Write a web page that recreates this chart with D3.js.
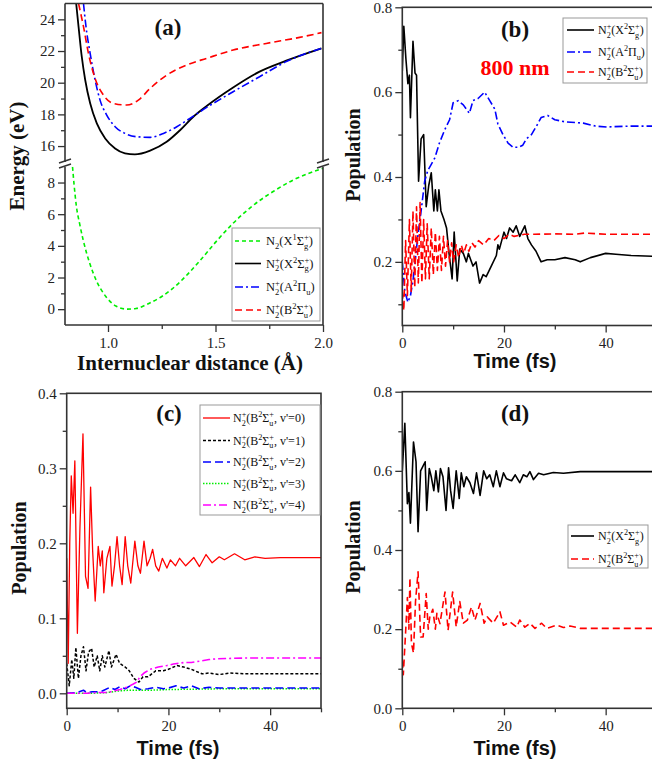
<!DOCTYPE html>
<html>
<head>
<meta charset="utf-8">
<script src="https://cdn.jsdelivr.net/npm/d3@7"></script>
<style>
  body { margin: 0; background: #fff; }
  svg { display: block; }
</style>
</head>
<body>
<svg id="chart" width="652" height="766"></svg>
<script>
// ---- panel (a): potential curves, [r (Å), energy (eV)] ----
const aGround = [[0.835,9.0],[0.842,7.9],[0.853,6.5],[0.868,5.4],[0.884,4.4],[0.915,2.9],[0.946,1.8],[0.99,0.8],[1.037,0.2],[1.09,0.0],[1.13,0.04],[1.19,0.36],[1.25,0.8],[1.30,1.3],[1.37,2.2],[1.43,3.1],[1.505,4.3],[1.58,5.4],[1.67,6.5],[1.77,7.45],[1.86,8.15],[2.0,8.9]]
const aX = [[0.852,25],[0.863,23.54],[0.878,21.64],[0.894,20.17],[0.917,18.7],[0.948,17.43],[0.987,16.48],[1.033,15.85],[1.079,15.54],[1.125,15.47],[1.196,15.71],[1.273,16.27],[1.335,17.0],[1.397,17.85],[1.459,18.53],[1.582,19.7],[1.705,20.7],[1.829,21.39],[1.993,22.17]]
const aA = [[0.886,25],[0.898,23.5],[0.917,21.85],[0.94,20.17],[0.963,18.9],[0.994,17.96],[1.033,17.22],[1.079,16.8],[1.133,16.59],[1.196,16.55],[1.258,16.8],[1.32,17.22],[1.381,17.75],[1.459,18.44],[1.582,19.43],[1.705,20.38],[1.829,21.33],[1.993,22.17]]
const aB = [[0.863,25],[0.886,23.54],[0.909,21.85],[0.94,20.27],[0.979,19.22],[1.025,18.69],[1.087,18.59],[1.141,18.9],[1.196,19.64],[1.273,20.48],[1.366,21.12],[1.459,21.54],[1.582,22.06],[1.736,22.48],[1.891,22.86],[1.993,23.16]]

// ---- panel (b): 800 nm populations, [time (fs), population] ----
const bX = [[0,0.65],[0.3,0.755],[0.7,0.68],[1.1,0.62],[1.4,0.64],[1.6,0.54],[2.1,0.72],[2.5,0.645],[2.8,0.64],[3.2,0.39],[3.7,0.49],[4.2,0.5],[4.7,0.33],[5.2,0.38],[5.7,0.41],[6.2,0.32],[6.5,0.37],[6.9,0.32],[7.2,0.37],[7.6,0.32],[8.2,0.3],[8.7,0.28],[9.2,0.22],[9.8,0.16],[10.2,0.27],[10.8,0.155],[11.3,0.23],[12.0,0.22],[12.6,0.2],[13.0,0.22],[13.9,0.19],[14.5,0.2],[15.2,0.15],[15.9,0.17],[16.5,0.165],[17.5,0.19],[18.5,0.215],[18.8,0.24],[19.1,0.23],[20.0,0.27],[20.5,0.255],[21.1,0.28],[21.8,0.27],[22.4,0.285],[23.1,0.26],[24.1,0.285],[24.7,0.255],[25.4,0.24],[26.3,0.225],[27.3,0.2],[28.5,0.205],[30,0.205],[32,0.21],[34,0.205],[35,0.2],[37,0.21],[40,0.22],[42,0.218],[45,0.215],[50,0.213]]
const bA = [[0,0.2],[0.5,0.13],[1.1,0.105],[1.6,0.12],[2.1,0.155],[2.6,0.21],[3.1,0.265],[3.7,0.32],[4.4,0.39],[5.0,0.415],[5.7,0.43],[6.4,0.445],[7.3,0.48],[8.3,0.51],[9.3,0.535],[10.0,0.575],[11.0,0.58],[12.0,0.57],[13.2,0.55],[13.9,0.58],[14.9,0.585],[16.2,0.6],[17.2,0.58],[18.2,0.56],[18.8,0.525],[19.8,0.5],[20.8,0.48],[21.8,0.47],[22.8,0.47],[23.7,0.475],[24.4,0.49],[25.4,0.5],[26.4,0.52],[27.3,0.54],[28.6,0.545],[30,0.535],[32,0.53],[35.6,0.527],[38,0.52],[40.2,0.518],[45,0.52],[50,0.52]]
const bB = [[0,0.13],[0.3,0.085],[0.65,0.25],[1.0,0.12],[1.4,0.3],[1.75,0.13],[2.1,0.32],[2.45,0.14],[2.8,0.33],[3.15,0.15],[3.5,0.34],[3.85,0.15],[4.2,0.3],[4.55,0.16],[4.9,0.29],[5.3,0.16],[5.7,0.28],[6.1,0.17],[6.5,0.27],[6.9,0.18],[7.3,0.26],[7.7,0.18],[8.1,0.26],[8.5,0.19],[8.9,0.25],[9.3,0.2],[9.7,0.245],[10.1,0.2],[10.6,0.24],[11.1,0.21],[11.6,0.24],[12.1,0.22],[12.6,0.24],[13.1,0.225],[13.7,0.245],[14.3,0.235],[15,0.25],[16,0.24],[17,0.255],[18,0.25],[19,0.262],[20,0.255],[21,0.265],[22,0.26],[24,0.265],[26,0.265],[30,0.266],[34,0.265],[36,0.268],[40,0.265],[45,0.265],[50,0.265]]

// ---- panel (c): vibrational levels of B state ----
const cV0 = [[0,0.18],[0.3,0.04],[0.6,0.2],[0.9,0.29],[1.25,0.24],[1.6,0.31],[2.1,0.08],[2.6,0.22],[3.2,0.346],[3.7,0.156],[4.2,0.14],[4.7,0.275],[5.1,0.19],[5.6,0.123],[6.2,0.196],[6.6,0.17],[7.0,0.19],[7.3,0.134],[7.9,0.18],[8.5,0.196],[8.9,0.143],[9.4,0.17],[9.9,0.209],[10.4,0.17],[10.9,0.145],[11.5,0.209],[12.0,0.17],[12.6,0.147],[13.4,0.203],[14.0,0.17],[14.5,0.16],[15.2,0.203],[15.8,0.17],[16.4,0.18],[16.9,0.192],[17.5,0.17],[18.1,0.163],[18.8,0.18],[19.7,0.167],[20.4,0.178],[21.4,0.17],[22.2,0.18],[23.4,0.17],[25,0.181],[26.1,0.169],[27.4,0.185],[28.6,0.174],[30,0.182],[31,0.178],[33,0.186],[35,0.178],[37,0.182],[39,0.18],[42,0.181],[50,0.181]]
const cV1 = [[0,0.04],[0.5,0.01],[1.0,0.045],[1.4,0.02],[1.8,0.061],[2.3,0.02],[2.8,0.05],[3.3,0.062],[3.8,0.03],[4.3,0.055],[4.9,0.06],[5.4,0.035],[6.0,0.05],[6.5,0.03],[7.0,0.05],[7.5,0.035],[8.3,0.057],[8.8,0.035],[9.7,0.052],[10.4,0.04],[11.5,0.035],[12.3,0.03],[13.2,0.02],[14.2,0.015],[15.0,0.022],[16,0.022],[17.5,0.03],[19,0.03],[20,0.032],[21.7,0.037],[23,0.035],[24.5,0.032],[26.6,0.026],[28,0.027],[30,0.025],[32,0.027],[35,0.026],[40,0.026],[50,0.026]]
const cV2 = [[0,0],[2,0.001],[3.3,0.004],[4,0.001],[5,0.002],[6,0.002],[7,0.003],[8.5,0.008],[9.5,0.005],[10.5,0.009],[11.5,0.006],[12.5,0.01],[13.5,0.008],[14.5,0.005],[16,0.006],[17.5,0.008],[19,0.006],[20,0.007],[21.5,0.01],[23,0.007],[24.5,0.01],[26,0.006],[28,0.008],[30,0.007],[35,0.007],[40,0.007],[50,0.007]]
const cV3 = [[0,0],[5,0],[8,0.001],[10,0.003],[12,0.004],[16,0.004],[20,0.005],[30,0.006],[50,0.006]]
const cV4 = [[0,0],[4,0],[6,0.001],[8,0.001],[9.2,0.003],[10.5,0.005],[11.8,0.008],[13,0.012],[13.8,0.015],[14.4,0.022],[15.2,0.027],[16.4,0.032],[18,0.035],[19.7,0.037],[21,0.039],[23,0.041],[24.5,0.041],[26.2,0.043],[28,0.045],[29.5,0.046],[32,0.0465],[35,0.047],[40,0.047],[50,0.047]]

// ---- panel (d): X and B populations ----
const dX = [[0,0.6],[0.5,0.72],[1.0,0.517],[1.3,0.545],[1.6,0.468],[2.2,0.673],[2.7,0.623],[3.1,0.446],[3.6,0.6],[4.0,0.61],[4.5,0.623],[4.8,0.5],[5.3,0.606],[5.7,0.585],[6.2,0.55],[6.6,0.6],[7.1,0.547],[7.5,0.606],[8.0,0.585],[8.6,0.5],[9.1,0.608],[9.5,0.55],[10,0.505],[10.6,0.6],[11.2,0.53],[11.6,0.595],[12.1,0.56],[12.6,0.585],[13.3,0.57],[14.0,0.543],[14.6,0.595],[15.3,0.538],[16.0,0.6],[16.6,0.58],[17.2,0.59],[17.9,0.56],[18.5,0.6],[19.2,0.56],[19.9,0.595],[20.5,0.58],[21.5,0.575],[22.2,0.59],[23.1,0.57],[23.8,0.59],[24.5,0.585],[25.1,0.598],[25.8,0.578],[26.8,0.594],[27.8,0.59],[29.7,0.596],[31.7,0.594],[35,0.598],[40,0.598],[50,0.598]]
const dB = [[0,0.12],[0.2,0.085],[0.6,0.18],[1.0,0.28],[1.3,0.2],[1.5,0.33],[1.8,0.164],[2.2,0.14],[2.6,0.27],[3.1,0.345],[3.6,0.18],[4.1,0.18],[4.7,0.29],[5.1,0.2],[5.4,0.23],[6.0,0.25],[6.5,0.2],[6.8,0.24],[7.4,0.214],[8.4,0.294],[9.0,0.197],[9.9,0.294],[10.6,0.206],[11.3,0.27],[12.0,0.215],[12.8,0.223],[13.6,0.256],[14.3,0.223],[15.3,0.265],[16.1,0.215],[16.7,0.231],[17.9,0.215],[19.2,0.244],[19.9,0.21],[21.2,0.218],[22.5,0.205],[23.1,0.223],[24.1,0.205],[25.1,0.215],[26.1,0.202],[27.4,0.215],[28.4,0.202],[30.4,0.21],[31.7,0.204],[33,0.208],[35,0.202],[40,0.202],[50,0.202]]

// ticks
const aXTicks = [1.0, 1.5, 2.0], aXMinor = [1.25, 1.75]
const aUpTicks = [16, 18, 20, 22, 24], aUpMinor = [17, 19, 21, 23]
const aLoTicks = [0, 2, 4, 6, 8], aLoMinor = [1, 3, 5, 7]
const timeTicks = [0, 20, 40], timeMinor = [10, 30, 50]
const bdTicks = [0.2, 0.4, 0.6, 0.8], bdMinor = [0.1, 0.3, 0.5, 0.7]
const dTicks = [0.0, 0.2, 0.4, 0.6, 0.8]
const cTicks = [0.0, 0.1, 0.2, 0.3, 0.4], cMinor = [0.05, 0.15, 0.25, 0.35]

const SERIF = "'Liberation Serif','Times New Roman',serif"
const SANS = "'Liberation Sans',Arial,sans-serif"
const AX = '#333'

const svg = d3.select('#chart')
const defs = svg.append('defs')

function clip(id, x0, x1, y0, y1) {
  defs.append('clipPath').attr('id', id).append('rect')
    .attr('x', x0).attr('y', y0).attr('width', x1 - x0).attr('height', y1 - y0)
}

function styleAxis(sel) {
  sel.select('.domain').remove()
  sel.selectAll('line').attr('stroke', AX).attr('stroke-width', 1.3)
  sel.selectAll('text').attr('font-family', SERIF).attr('font-size', 15).attr('fill', '#222')
}

function xAxis(x, yPos, major, minor, fmt) {
  svg.append('g').attr('transform', 'translate(0,' + yPos + ')')
    .call(d3.axisBottom(x).tickValues(major).tickSize(7).tickPadding(5).tickFormat(fmt)).call(styleAxis)
  svg.append('g').attr('transform', 'translate(0,' + yPos + ')')
    .call(d3.axisBottom(x).tickValues(minor).tickSize(4).tickFormat('')).call(styleAxis)
}

function yAxis(y, xPos, major, minor, fmt) {
  svg.append('g').attr('transform', 'translate(' + xPos + ',0)')
    .call(d3.axisLeft(y).tickValues(major).tickSize(7).tickPadding(3).tickFormat(fmt)).call(styleAxis)
  svg.append('g').attr('transform', 'translate(' + xPos + ',0)')
    .call(d3.axisLeft(y).tickValues(minor).tickSize(4).tickFormat('')).call(styleAxis)
}

function frame(x0, x1, y0, y1) {
  svg.append('rect').attr('x', x0).attr('y', y0).attr('width', x1 - x0).attr('height', y1 - y0)
    .attr('fill', 'none').attr('stroke', AX).attr('stroke-width', 1.6)
}

function series(x, y, data, color, dash, clipId, w, curve) {
  svg.append('path').datum(data)
    .attr('clip-path', 'url(#' + clipId + ')')
    .attr('fill', 'none').attr('stroke', color).attr('stroke-width', w || 1.6)
    .attr('stroke-dasharray', dash).attr('stroke-linejoin', 'round')
    .attr('d', d3.line().x(d => x(d[0])).y(d => y(d[1])).curve(curve || d3.curveLinear))
}

// text like N_2^+(X^2Σ_g^+) -> stacked sub/sup tspans
function richText(t, str, size) {
  const sm = size * 0.68
  let cur = 0, i = 0
  while (i < str.length) {
    const c = str[i]
    if (c === '_') {
      const sub = t.append('tspan').attr('font-size', sm).attr('dy', 3.5 - cur).text(str[i + 1])
      cur = 3.5; i += 2
      if (str[i] === '^') {
        const w = sub.node().getComputedTextLength()
        t.append('tspan').attr('font-size', sm).attr('dx', -w).attr('dy', -5 - cur).text(str[i + 1])
        cur = -5; i += 2
      }
    } else if (c === '^') {
      t.append('tspan').attr('font-size', sm).attr('dy', -5 - cur).text(str[i + 1])
      cur = -5; i += 2
    } else {
      let j = i
      while (j < str.length && str[j] !== '_' && str[j] !== '^') j++
      t.append('tspan').attr('font-size', size).attr('dy', -cur).text(str.slice(i, j))
      cur = 0; i = j
    }
  }
}

function legend(box, lx0, lx1, tx, rows, size) {
  svg.append('rect').attr('x', box[0]).attr('y', box[1]).attr('width', box[2]).attr('height', box[3])
    .attr('fill', '#fff').attr('stroke', '#999').attr('stroke-width', 1)
  rows.forEach(r => {
    svg.append('line').attr('x1', lx0).attr('x2', lx1).attr('y1', r.y).attr('y2', r.y)
      .attr('stroke', r.color).attr('stroke-width', r.w || 1.6).attr('stroke-dasharray', r.dash)
    const t = svg.append('text').attr('x', tx).attr('y', r.y + 4)
      .attr('font-family', SERIF).attr('fill', '#111')
    richText(t, r.label, size)
  })
}

function title(txt, x, y, size, font, rotate, color) {
  const t = svg.append('text').attr('text-anchor', 'middle').attr('font-family', font)
    .attr('font-weight', 'bold').attr('font-size', size).attr('fill', color || '#111').text(txt)
  if (rotate) t.attr('transform', 'translate(' + x + ',' + y + ') rotate(-90)').attr('dy', '0.35em')
  else t.attr('x', x).attr('y', y)
}

const DASH = '7,4', DOT_DASH = '8,3,2,3', SHORT = '4,3'

// ================= panel (a) =================
const xA = d3.scaleLinear().domain([0.8, 2.0]).range([65, 323])
const yAU = d3.scaleLinear().domain([15, 25]).range([161.9, 3.5])
const yAL = d3.scaleLinear().domain([-1, 9]).range([325, 166.7])
clip('clipAU', 65, 323, 3.5, 161.9)
clip('clipAL', 65, 323, 166.7, 325)
series(xA, yAL, aGround, '#00ee00', SHORT, 'clipAL', 1.6, d3.curveMonotoneX)
series(xA, yAU, aX, '#000', null, 'clipAU', 1.8, d3.curveMonotoneX)
series(xA, yAU, aA, '#0000ff', DOT_DASH, 'clipAU', 1.6, d3.curveMonotoneX)
series(xA, yAU, aB, '#ff0000', DASH, 'clipAU', 1.6, d3.curveMonotoneX)

// broken frame
const brk = svg.append('g').attr('stroke', AX).attr('stroke-width', 1.6).attr('fill', 'none')
brk.append('line').attr('x1', 65).attr('x2', 323).attr('y1', 3.5).attr('y2', 3.5)
brk.append('line').attr('x1', 65).attr('x2', 323).attr('y1', 325).attr('y2', 325)
;[65, 323].forEach(xx => {
  brk.append('line').attr('x1', xx).attr('x2', xx).attr('y1', 3.5).attr('y2', 161.9)
  brk.append('line').attr('x1', xx).attr('x2', xx).attr('y1', 166.7).attr('y2', 325)
  brk.append('line').attr('x1', xx - 6).attr('y1', 163).attr('x2', xx + 6).attr('y2', 159)
  brk.append('line').attr('x1', xx - 6).attr('y1', 168).attr('x2', xx + 6).attr('y2', 164)
})
xAxis(xA, 325, aXTicks, aXMinor, d3.format('.1f'))
yAxis(yAU, 65, aUpTicks, aUpMinor, d3.format('d'))
yAxis(yAL, 65, aLoTicks, aLoMinor, d3.format('d'))
legend([232, 228, 88, 93], 235, 261, 266, [
  { label: 'N_2(X^1Σ_g^+)', color: '#00ee00', dash: SHORT, y: 241 },
  { label: 'N_2^+(X^2Σ_g^+)', color: '#000', dash: null, y: 263.5 },
  { label: 'N_2^+(A^2Π_u)', color: '#0000ff', dash: DOT_DASH, y: 287 },
  { label: 'N_2^+(B^2Σ_u^+)', color: '#ff0000', dash: DASH, y: 310 }
], 12.5)
title('(a)', 168, 35, 23, SERIF)
title('Energy (eV)', 17, 156, 21, SERIF, true)
title('Internuclear distance (Å)', 190, 370, 21, SERIF)

// ================= panel (b) =================
const xB = d3.scaleLinear().domain([0, 50]).range([402.3, 656.5])
const yB = d3.scaleLinear().domain([0.05, 0.8]).range([325.5, 7.3])
clip('clipB', 402.3, 656.5, 7.3, 325.5)
series(xB, yB, bX, '#000', null, 'clipB', 1.6)
series(xB, yB, bA, '#0000ff', DOT_DASH, 'clipB', 1.6)
series(xB, yB, bB, '#ff0000', DASH, 'clipB', 1.6)
frame(402.3, 656.5, 7.3, 325.5)
xAxis(xB, 325.5, timeTicks, timeMinor, d3.format('d'))
yAxis(yB, 402.3, bdTicks, bdMinor, d3.format('.1f'))
legend([563, 18, 84, 65], 567, 594, 598, [
  { label: 'N_2^+(X^2Σ_g^+)', color: '#000', dash: null, y: 30 },
  { label: 'N_2^+(A^2Π_u)', color: '#0000ff', dash: DOT_DASH, y: 52 },
  { label: 'N_2^+(B^2Σ_u^+)', color: '#ff0000', dash: DASH, y: 72 }
], 12)
title('(b)', 515, 37, 23, SERIF)
title('800 nm', 515, 75, 22, SERIF, false, '#ff0000')
title('Population', 353, 155, 20, SERIF, true)
title('Time (fs)', 515, 368, 20, SANS)

// ================= panel (c) =================
const xC = d3.scaleLinear().domain([0, 50]).range([66.7, 321])
const yC = d3.scaleLinear().domain([-0.02, 0.4]).range([708.3, 393.3])
clip('clipC', 66.7, 321, 393.3, 708.3)
series(xC, yC, cV3, '#00ee00', '1.5,1.5', 'clipC', 1.5)
series(xC, yC, cV2, '#0000ff', '8,4', 'clipC', 1.6)
series(xC, yC, cV4, '#ff00ff', DOT_DASH, 'clipC', 1.6)
series(xC, yC, cV1, '#000', '3,2', 'clipC', 1.5)
series(xC, yC, cV0, '#ff0000', null, 'clipC', 1.3)
frame(66.7, 321, 393.3, 708.3)
xAxis(xC, 708.3, timeTicks, timeMinor, d3.format('d'))
yAxis(yC, 66.7, cTicks, cMinor, d3.format('.1f'))
legend([200, 405, 120, 110], 203, 230, 233, [
  { label: "N_2^+(B^2Σ_u^+, v'=0)", color: '#ff0000', dash: null, y: 418, w: 1.3 },
  { label: "N_2^+(B^2Σ_u^+, v'=1)", color: '#000', dash: '3,2', y: 440.5, w: 1.5 },
  { label: "N_2^+(B^2Σ_u^+, v'=2)", color: '#0000ff', dash: '8,4', y: 462 },
  { label: "N_2^+(B^2Σ_u^+, v'=3)", color: '#00ee00', dash: '1.5,1.5', y: 483.5, w: 1.5 },
  { label: "N_2^+(B^2Σ_u^+, v'=4)", color: '#ff00ff', dash: DOT_DASH, y: 505 }
], 12)
title('(c)', 169, 421, 23, SERIF)
title('Population', 19, 548, 20, SERIF, true)
title('Time (fs)', 178, 755, 20, SANS)

// ================= panel (d) =================
const xD = d3.scaleLinear().domain([0, 50]).range([402.3, 656.5])
const yD = d3.scaleLinear().domain([0, 0.8]).range([708.3, 391.7])
clip('clipD', 402.3, 656.5, 391.7, 708.3)
series(xD, yD, dX, '#000', null, 'clipD', 1.6)
series(xD, yD, dB, '#ff0000', DASH, 'clipD', 1.6)
frame(402.3, 656.5, 391.7, 708.3)
xAxis(xD, 708.3, timeTicks, timeMinor, d3.format('d'))
yAxis(yD, 402.3, dTicks, bdMinor, d3.format('.1f'))
legend([568, 525, 80, 43], 571, 594, 598, [
  { label: 'N_2^+(X^2Σ_g^+)', color: '#000', dash: null, y: 536 },
  { label: 'N_2^+(B^2Σ_u^+)', color: '#ff0000', dash: DASH, y: 559 }
], 12)
title('(d)', 515, 421, 23, SERIF)
title('Population', 353, 547, 20, SERIF, true)
title('Time (fs)', 515, 755, 20, SANS)
</script>
</body>
</html>
